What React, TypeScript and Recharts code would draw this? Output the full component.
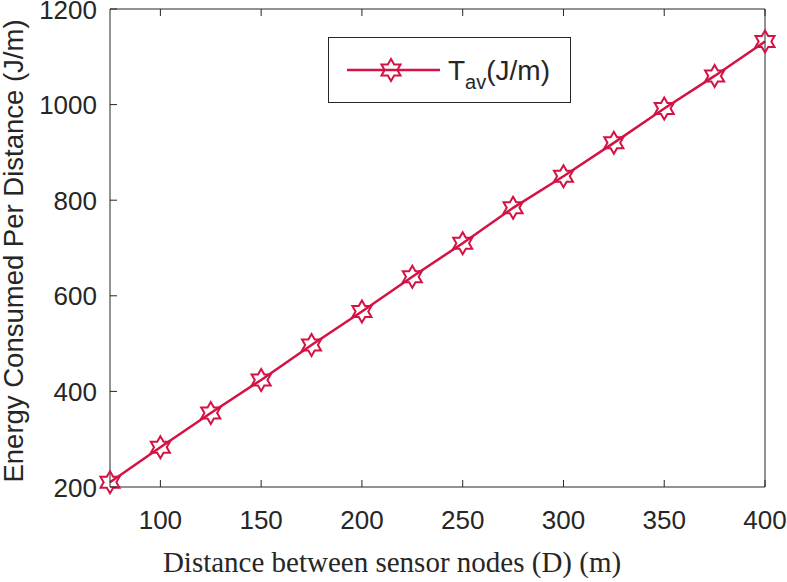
import { LineChart, Line, XAxis, YAxis, Legend } from 'recharts';

// distance between sensor nodes (m)
const distances = [75, 100, 125, 150, 175, 200, 225, 250, 275, 300, 325, 350, 375, 400];
// T_av, energy consumed per distance (J/m)
const energyPerDistance = [210, 283, 355, 424, 497, 567, 640, 710, 784, 850, 920, 992, 1060, 1132];

const xTicks = [100, 150, 200, 250, 300, 350, 400];
const yTicks = [200, 400, 600, 800, 1000, 1200];

const data = distances.map((d, i) => ({ d, tav: energyPerDistance[i] }));

const RED = '#d41243';
const INK = '#262626';
const SANS = '"Liberation Sans", Arial, Helvetica, sans-serif';
const SERIF = '"Liberation Serif", "Times New Roman", serif';
const TICK_LEN = 7;

function hexagram(cx: number, cy: number, R: number) {
  const r = R / Math.sqrt(3);
  let d = '';
  for (let k = 0; k < 12; k++) {
    const a = ((-90 + k * 30) * Math.PI) / 180;
    const rad = k % 2 === 0 ? R : r;
    d += `${k === 0 ? 'M' : 'L'}${cx + rad * Math.cos(a)},${cy + rad * Math.sin(a)}`;
  }
  return d + 'Z';
}

const BottomTick = ({ x, y, payload }: any) => (
  <g>
    <line x1={x} y1={y} x2={x} y2={y - TICK_LEN} stroke={INK} strokeWidth={1} />
    <text x={x} y={y + 42} textAnchor="middle" fill={INK} fontSize={26} fontFamily={SANS}>
      {payload.value}
    </text>
  </g>
);

const TopTick = ({ x, y }: any) => (
  <line x1={x} y1={y} x2={x} y2={y + TICK_LEN} stroke={INK} strokeWidth={1} />
);

const LeftTick = ({ x, y, payload }: any) => (
  <g>
    <line x1={x} y1={y} x2={x + TICK_LEN} y2={y} stroke={INK} strokeWidth={1} />
    <text x={x - 13} y={y + 9.5} textAnchor="end" fill={INK} fontSize={26} fontFamily={SANS}>
      {payload.value}
    </text>
  </g>
);

const RightTick = ({ x, y }: any) => (
  <line x1={x} y1={y} x2={x - TICK_LEN} y2={y} stroke={INK} strokeWidth={1} />
);

const renderLegend = () => (
  <svg width={243} height={66} style={{ display: 'block' }}>
    <rect x={0.5} y={0.5} width={242} height={65} fill="#fff" stroke={INK} strokeWidth={1} />
    <line x1={19} y1={33} x2={112} y2={33} stroke={RED} strokeWidth={2.5} />
    <path d={hexagram(63, 33, 11)} fill="none" stroke={RED} strokeWidth={2} />
    <text x={120} y={43} fill={INK} fontSize={28} fontFamily={SANS}>
      T
      <tspan fontSize={20} dy={9}>av</tspan>
      <tspan fontSize={28} dy={-9}>(J/m)</tspan>
    </text>
  </svg>
);

export default function App() {
  return (
    <div style={{ position: 'absolute', left: 0, top: 0, width: 787, height: 582, background: '#fff' }}>
      <LineChart
        width={787}
        height={582}
        data={data}
        margin={{ top: 8, right: 21, bottom: 35, left: 50 }}
      >
        <XAxis
          dataKey="d"
          type="number"
          domain={[75, 400]}
          ticks={xTicks}
          height={60}
          tickSize={0}
          tickMargin={0}
          tickLine={false}
          axisLine={{ stroke: INK, strokeWidth: 1 }}
          tick={<BottomTick />}
          interval={0}
        />
        <XAxis
          xAxisId="top"
          orientation="top"
          dataKey="d"
          type="number"
          domain={[75, 400]}
          ticks={xTicks}
          height={1}
          tickSize={0}
          tickMargin={0}
          tickLine={false}
          axisLine={{ stroke: INK, strokeWidth: 1 }}
          tick={<TopTick />}
          interval={0}
        />
        <YAxis
          type="number"
          domain={[200, 1200]}
          ticks={yTicks}
          width={60}
          tickSize={0}
          tickMargin={0}
          tickLine={false}
          axisLine={{ stroke: INK, strokeWidth: 1 }}
          tick={<LeftTick />}
          interval={0}
        />
        <YAxis
          yAxisId="right"
          orientation="right"
          type="number"
          domain={[200, 1200]}
          ticks={yTicks}
          width={1}
          tickSize={0}
          tickMargin={0}
          tickLine={false}
          axisLine={{ stroke: INK, strokeWidth: 1 }}
          tick={<RightTick />}
          interval={0}
        />
        <Line
          dataKey="tav"
          name="Tav(J/m)"
          stroke={RED}
          strokeWidth={2.5}
          isAnimationActive={false}
          dot={(p: any) => (
            <path
              key={`dot-${p.index}`}
              d={hexagram(p.cx, p.cy, 11)}
              fill="none"
              stroke={RED}
              strokeWidth={2}
            />
          )}
          activeDot={false}
        />
        <Legend
          layout="horizontal"
          verticalAlign="middle"
          align="center"
          content={renderLegend}
          wrapperStyle={{ left: 328, top: 37, width: 243, height: 66 }}
        />
        <text
          x={392}
          y={572}
          textAnchor="middle"
          fill={INK}
          fontSize={29}
          fontFamily={SERIF}
        >
          Distance between sensor nodes (D) (m)
        </text>
        <text
          transform="rotate(-90)"
          x={-251}
          y={23}
          textAnchor="middle"
          fill={INK}
          fontSize={27.5}
          fontFamily={SANS}
        >
          Energy Consumed Per Distance (J/m)
        </text>
      </LineChart>
    </div>
  );
}
